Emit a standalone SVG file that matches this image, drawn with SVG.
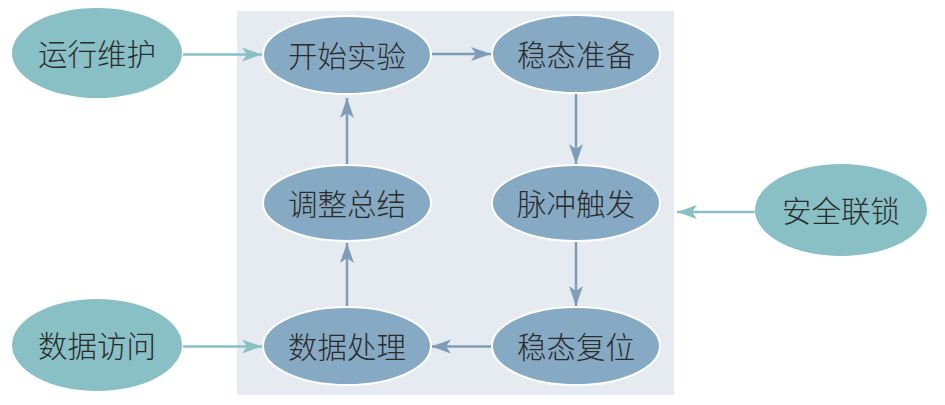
<svg xmlns="http://www.w3.org/2000/svg" width="945" height="405" viewBox="0 0 945 405">
<defs>
<style>
.inner{fill:#87aac4;stroke:#ffffff;stroke-width:2}
.outer{fill:#88c0c6;stroke:none}
.lbl{font-family:"Noto Sans CJK SC","Noto Sans",sans-serif;font-size:29.5px;font-weight:300;fill:#2b2b2b;text-anchor:middle;dominant-baseline:central}
.e-in{stroke:#7e9db6;stroke-width:2.5;fill:none}
.e-out{stroke:#88c0c6;stroke-width:2.5;fill:none}
</style>
<marker id="ahIn" markerUnits="userSpaceOnUse" markerWidth="22" markerHeight="16" refX="20" refY="7" orient="auto" viewBox="0 0 22 16">
<path d="M0,0 L20,7 L0,14 L5,7 Z" fill="#7e9db6"/>
</marker>
<marker id="ahOut" markerUnits="userSpaceOnUse" markerWidth="22" markerHeight="16" refX="20" refY="7" orient="auto" viewBox="0 0 22 16">
<path d="M0,0 L20,7 L0,14 L5,7 Z" fill="#88c0c6"/>
</marker>
</defs>
<rect x="237" y="11" width="437" height="384" fill="#e6ebf2"/>
<g id="connectors">
<line class="e-out" x1="183" y1="54.5" x2="262" y2="54.5" marker-end="url(#ahOut)"/>
<line class="e-in" x1="430" y1="54" x2="491" y2="54" marker-end="url(#ahIn)"/>
<line class="e-in" x1="576" y1="93" x2="576" y2="164" marker-end="url(#ahIn)"/>
<line class="e-out" x1="755" y1="212" x2="677" y2="212" marker-end="url(#ahOut)"/>
<line class="e-in" x1="576" y1="241" x2="576" y2="306" marker-end="url(#ahIn)"/>
<line class="e-in" x1="492" y1="346.5" x2="431" y2="346.5" marker-end="url(#ahIn)"/>
<line class="e-out" x1="183" y1="346.5" x2="262" y2="346.5" marker-end="url(#ahOut)"/>
<line class="e-in" x1="347" y1="307" x2="347" y2="243" marker-end="url(#ahIn)"/>
<line class="e-in" x1="347" y1="165" x2="347" y2="98" marker-end="url(#ahIn)"/>
</g>
<g id="n-yunxing"><ellipse class="outer" cx="97" cy="53" rx="85" ry="45"/><text class="lbl" x="97" y="52">运行维护</text></g>
<g id="n-kaishi"><ellipse class="inner" cx="347" cy="55" rx="84" ry="39"/><text class="lbl" x="347" y="54">开始实验</text></g>
<g id="n-wentai"><ellipse class="inner" cx="576" cy="54" rx="84" ry="39"/><text class="lbl" x="576" y="53">稳态准备</text></g>
<g id="n-maichong"><ellipse class="inner" cx="576" cy="203" rx="84" ry="38"/><text class="lbl" x="576" y="202">脉冲触发</text></g>
<g id="n-anquan"><ellipse class="outer" cx="841" cy="210" rx="86" ry="46"/><text class="lbl" x="841" y="209">安全联锁</text></g>
<g id="n-fuwei"><ellipse class="inner" cx="576" cy="346" rx="84" ry="39"/><text class="lbl" x="576" y="345">稳态复位</text></g>
<g id="n-chuli"><ellipse class="inner" cx="347" cy="346" rx="84" ry="39"/><text class="lbl" x="347" y="345">数据处理</text></g>
<g id="n-tiaozheng"><ellipse class="inner" cx="347" cy="203" rx="84" ry="38"/><text class="lbl" x="347" y="202">调整总结</text></g>
<g id="n-fangwen"><ellipse class="outer" cx="97" cy="345" rx="85" ry="46"/><text class="lbl" x="97" y="344">数据访问</text></g>
</svg>
